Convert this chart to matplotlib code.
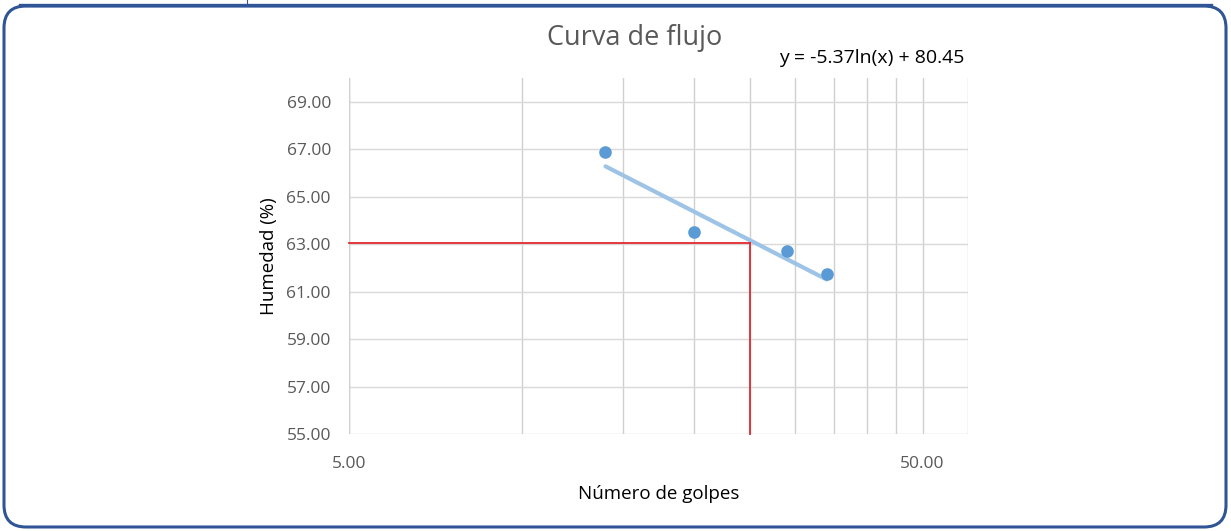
import matplotlib
matplotlib.use("Agg")
import matplotlib.pyplot as plt
from matplotlib.patches import FancyBboxPatch
from matplotlib.ticker import FixedLocator, NullFormatter
import numpy as np

plt.rcParams["font.family"] = ["Open Sans", "DejaVu Sans"]

golpes = [14, 20, 29, 34]
humedad = [66.89, 63.52, 62.72, 61.75]
trend_coef = (-5.37, 80.45)
trend_x = [14, 34]
limite_golpes = 25
limite_humedad = 63.05
y_ticks = [55, 57, 59, 61, 63, 65, 67, 69]
x_minor = [10, 15, 20, 25, 30, 35, 40, 45, 60]

fig = plt.figure(figsize=(12.31, 5.31), dpi=100)

# page frame, drawn in pixel units
frame = fig.add_axes([0, 0, 1, 1], zorder=-1)
frame.set_xlim(0, 1231)
frame.set_ylim(531, 0)
frame.axis("off")
frame.add_patch(
    FancyBboxPatch(
        (4, 6), 1222, 521,
        boxstyle="round,pad=0,rounding_size=22",
        facecolor="white", edgecolor="#2F5597", linewidth=2.2,
    )
)
frame.plot([20, 1211], [5, 5], color="#2F5597", linewidth=2.4)
frame.plot([247, 247], [0, 5], color="#2F5597", linewidth=0.8)

ax = fig.add_axes([349 / 1231, 1 - 434 / 531, (968 - 349) / 1231, (434 - 78) / 531])
ax.set_xscale("log")
ax.set_xlim(5, 60)
ax.set_ylim(55, 70)

ax.xaxis.set_major_locator(FixedLocator([5, 50]))
ax.xaxis.set_minor_locator(FixedLocator(x_minor))
ax.xaxis.set_minor_formatter(NullFormatter())
ax.set_xticklabels(["5.00", "50.00"])
ax.set_yticks(y_ticks)
ax.set_yticklabels([f"{v:.2f}" for v in y_ticks])

ax.grid(True, which="both", axis="x", color="#D0D0D0", linewidth=1.0)
ax.grid(True, which="major", axis="y", color="#D9D9D9", linewidth=1.0)
ax.axvline(5, color="#D0D0D0", linewidth=1.0)
for side in ax.spines.values():
    side.set_visible(False)
ax.tick_params(which="both", length=0, colors="#595959", labelsize=12.5)
ax.tick_params(axis="y", pad=13)
ax.tick_params(axis="x", pad=16)

# trendline and data
tx = np.array(trend_x, dtype=float)
ax.plot(tx, trend_coef[0] * np.log(tx) + trend_coef[1], color="#9DC3E6",
        linewidth=3, solid_capstyle="round", zorder=3)
ax.scatter(golpes, humedad, s=65, color="#5B9BD5", zorder=4)

# reading at 25 blows
ax.plot([5, limite_golpes], [limite_humedad, limite_humedad], color="#E0282D",
        linewidth=1.3, zorder=5, clip_on=False)
ax.plot([limite_golpes, limite_golpes], [55, limite_humedad], color="#E0282D",
        linewidth=1.3, zorder=5, clip_on=False)

ax.set_xlabel("Número de golpes", fontsize=13.5, color="black", labelpad=9)
ax.set_ylabel("Humedad (%)", fontsize=13.5, color="black", labelpad=6)

fig.text(635 / 1231, 1 - 38 / 531, "Curva de flujo", fontsize=19.5, color="#595959",
         ha="center", va="center")
fig.text(872 / 1231, 1 - 58 / 531, "y = -5.37ln(x) + 80.45", fontsize=14,
         color="black", ha="center", va="center")

fig.savefig("out.png", dpi=100)
